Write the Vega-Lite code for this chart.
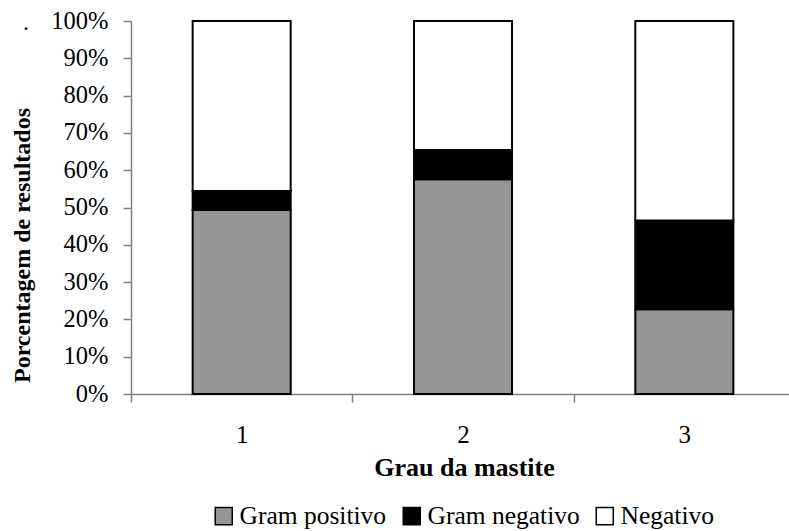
{
  "$schema": "https://vega.github.io/schema/vega-lite/v6.json",
  "width": 664,
  "height": 373,
  "autosize": "none",
  "padding": {"left": 131, "top": 21, "right": 0, "bottom": 137},
  "background": "white",
  "config": {"view": {"stroke": null}, "font": "Liberation Serif"},
  "title": {"text": ".", "anchor": "start", "frame": "group", "fontSize": 24, "fontWeight": "normal", "font": "Liberation Serif", "baseline": "alphabetic", "dx": -108, "dy": 50, "color": "black"},
  "data": {"values": [
    {"grau": "1", "tipo": "Gram positivo", "ordem": 1, "valor": 0.493},
    {"grau": "1", "tipo": "Gram negativo", "ordem": 2, "valor": 0.051},
    {"grau": "1", "tipo": "Negativo", "ordem": 3, "valor": 0.456},
    {"grau": "2", "tipo": "Gram positivo", "ordem": 1, "valor": 0.576},
    {"grau": "2", "tipo": "Gram negativo", "ordem": 2, "valor": 0.078},
    {"grau": "2", "tipo": "Negativo", "ordem": 3, "valor": 0.346},
    {"grau": "3", "tipo": "Gram positivo", "ordem": 1, "valor": 0.227},
    {"grau": "3", "tipo": "Gram negativo", "ordem": 2, "valor": 0.238},
    {"grau": "3", "tipo": "Negativo", "ordem": 3, "valor": 0.535}
  ]},
  "mark": {"type": "bar", "width": {"band": 0.443}, "stroke": "black", "strokeWidth": 2},
  "encoding": {
    "x": {"field": "grau", "type": "nominal", "sort": ["1", "2", "3"],
      "scale": {"paddingInner": 0, "paddingOuter": 0},
      "axis": {"title": "Grau da mastite", "labelAngle": 0, "labelFont": "Liberation Serif", "labelFontSize": 25, "labelColor": "black",
        "labelBaseline": "alphabetic", "tickSize": 8, "labelPadding": 40, "tickBand": "extent",
        "domainColor": "#808080", "tickColor": "#808080", "domainWidth": 1.5, "tickWidth": 1.5,
        "titleFont": "Liberation Serif", "titleFontSize": 26, "titleFontWeight": "bold", "titleColor": "black",
        "titleBaseline": "alphabetic", "titleY": 81, "titleX": 333}},
    "y": {"field": "valor", "type": "quantitative", "stack": "zero",
      "scale": {"domain": [0, 1]},
      "axis": {"title": "Porcentagem de resultados", "format": ".0%", "values": [0, 0.1, 0.2, 0.3, 0.4, 0.5, 0.6, 0.7, 0.8, 0.9, 1],
        "grid": false, "labelFont": "Liberation Serif", "labelFontSize": 24.5, "labelColor": "black", "tickSize": 8, "labelPadding": 15,
        "domainColor": "#808080", "tickColor": "#808080", "domainWidth": 1.5, "tickWidth": 1.5,
        "titleFont": "Liberation Serif", "titleFontSize": 24, "titleFontWeight": "bold", "titleColor": "black",
        "titleAngle": -90, "titleBaseline": "middle", "titleAlign": "center", "titleX": -109, "titleY": 224}},
    "color": {"field": "tipo", "type": "nominal",
      "scale": {"domain": ["Gram positivo", "Gram negativo", "Negativo"], "range": ["#969696", "#000000", "#ffffff"]},
      "legend": {"title": null, "orient": "none", "direction": "horizontal", "legendX": 80, "legendY": 482,
        "symbolType": "square", "symbolSize": 290, "symbolStrokeColor": "black", "symbolStrokeWidth": 1.5, "symbolOpacity": 1,
        "labelFont": "Liberation Serif", "labelFontSize": 25.5, "labelColor": "black", "labelOffset": 3, "columnPadding": 12, "labelLimit": 300}},
    "order": {"field": "ordem", "type": "quantitative"}
  }
}
